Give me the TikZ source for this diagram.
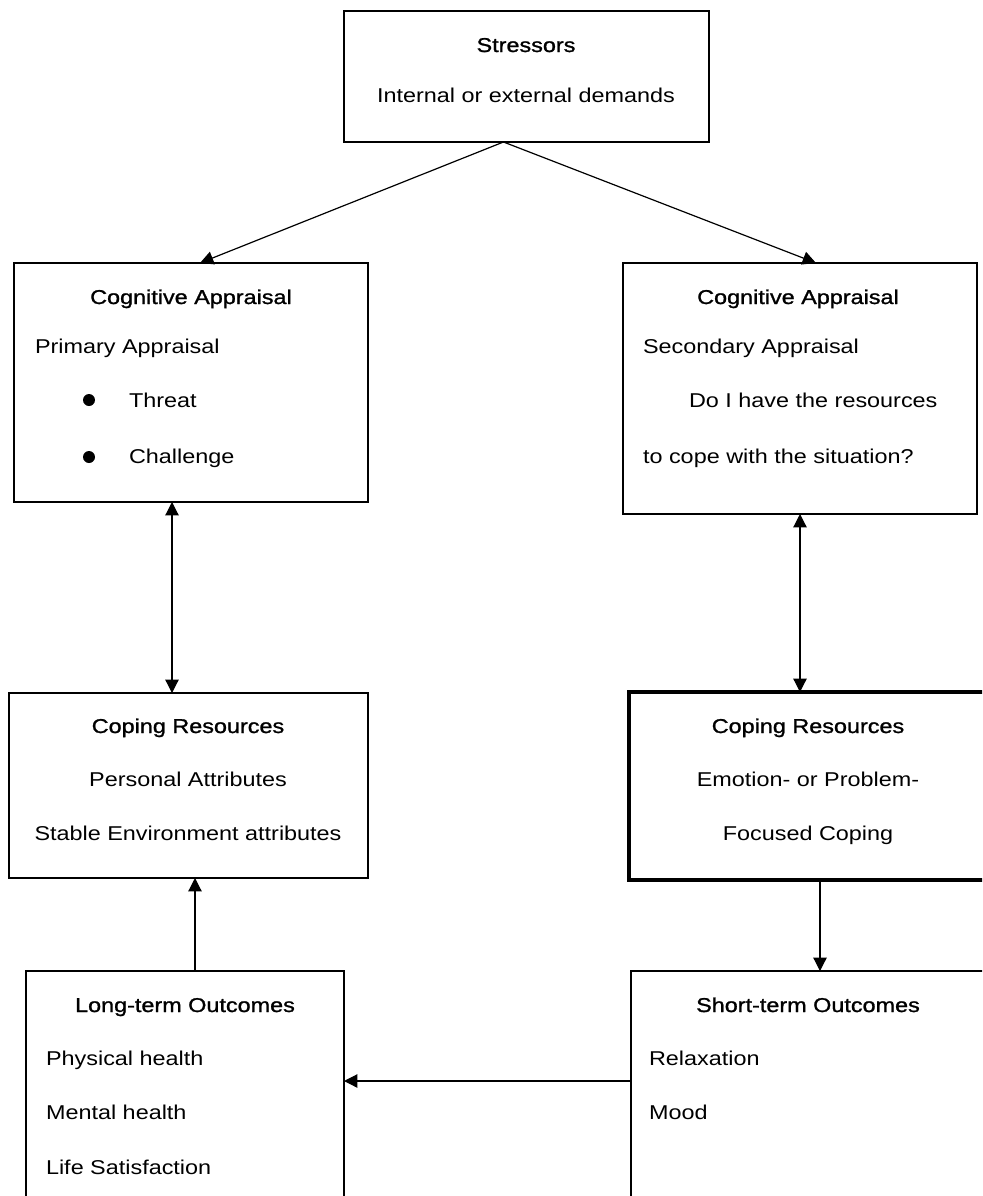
\documentclass[tikz,border=0pt]{standalone}
\usepackage{fontspec}
\setmainfont[FakeStretch=1.17]{Liberation Sans}
\newfontfamily\hdfont[FakeStretch=1.17,FakeBold=1.2]{Liberation Sans}
\usetikzlibrary{arrows.meta}

\begin{document}
\begin{tikzpicture}[x=0.75pt,y=-0.75pt,>={Triangle[length=10pt,width=10pt]},line width=0.9pt,
  box/.style={draw,rectangle,anchor=north west,inner sep=0pt,outer sep=0pt},
  hd/.style={anchor=base,font=\hdfont\fontsize{15}{18}\selectfont},
  tx/.style={anchor=base,font=\fontsize{15}{18}\selectfont},
  lt/.style={tx,anchor=base west},
  dot/.style={circle,fill,inner sep=0pt,minimum size=9pt}]
\useasboundingbox (0,0) rectangle (982,1196);
\clip (0,0) rectangle (982,1196);

\node[box,minimum width=273.75pt,minimum height=98.25pt] (stress) at (344,11) {};
\node[box,minimum width=265.5pt,minimum height=179.25pt] (cal) at (14,263) {};
\node[box,minimum width=265.5pt,minimum height=188.25pt] (car) at (623,263) {};
\node[box,minimum width=269.25pt,minimum height=138.75pt] (crl) at (9,693) {};
\node[box,line width=2.5pt,minimum width=268.5pt,minimum height=141pt] (crr) at (629,692) {};
\node[box,minimum width=238.5pt,minimum height=210pt] (lto) at (26,971) {};
\node[box,minimum width=270pt,minimum height=210pt] (sto) at (631,971) {};

\node[hd] (stressH) at (526,52) {Stressors};
\node[tx] (stressT) at (526,102) {Internal or external demands};

\node[hd] (calH) at (191,304) {Cognitive Appraisal};
\node[lt] (calA) at (30,353) {Primary Appraisal};
\node[dot] (calB1) at (89,400) {}; \node[lt] (calT1) at (124,407) {Threat};
\node[dot] (calB2) at (89,457) {}; \node[lt] (calT2) at (124,463) {Challenge};

\node[hd] (carH) at (798,304) {Cognitive Appraisal};
\node[lt] (carA) at (638,353) {Secondary Appraisal};
\node[lt] (carQ1) at (684,407) {Do I have the resources};
\node[lt] (carQ2) at (638,463) {to cope with the situation?};

\node[hd] (crlH) at (188,733) {Coping Resources};
\node[tx] (crlT1) at (188,786) {Personal Attributes};
\node[tx] (crlT2) at (188,840) {Stable Environment attributes};

\node[hd] (crrH) at (808,733) {Coping Resources};
\node[tx] (crrT1) at (808,786) {Emotion- or Problem-};
\node[tx] (crrT2) at (808,840) {Focused Coping};

\node[hd] (ltoH) at (185,1012) {Long-term Outcomes};
\node[lt] (ltoT1) at (41,1065) {Physical health};
\node[lt] (ltoT2) at (41,1119) {Mental health};
\node[lt] (ltoT3) at (41,1174) {Life Satisfaction};

\node[hd] (stoH) at (808,1012) {Short-term Outcomes};
\node[lt] (stoT1) at (644,1065) {Relaxation};
\node[lt] (stoT2) at (644,1119) {Mood};

\draw[->] ([xshift=-17.25pt]stress.south) -- ([xshift=6.75pt]cal.north);
\draw[->] ([xshift=-17.25pt]stress.south) -- ([xshift=12pt]car.north);
\draw[<->] ([xshift=-14.25pt]cal.south) -- ([xshift=-14.25pt]cal.south |- crl.north);
\draw[<->] (car.south) -- (car.south |- crr.north);
\draw[->] ([xshift=9pt]crr.south) -- ([xshift=9pt]crr.south |- sto.north);
\draw[->] ([xshift=7.5pt]lto.north) -- ([xshift=7.5pt]lto.north |- crl.south);
\draw[->] ([yshift=-82.5pt]sto.north west) -- ([yshift=-82.5pt]lto.north east);
\end{tikzpicture}
\end{document}
